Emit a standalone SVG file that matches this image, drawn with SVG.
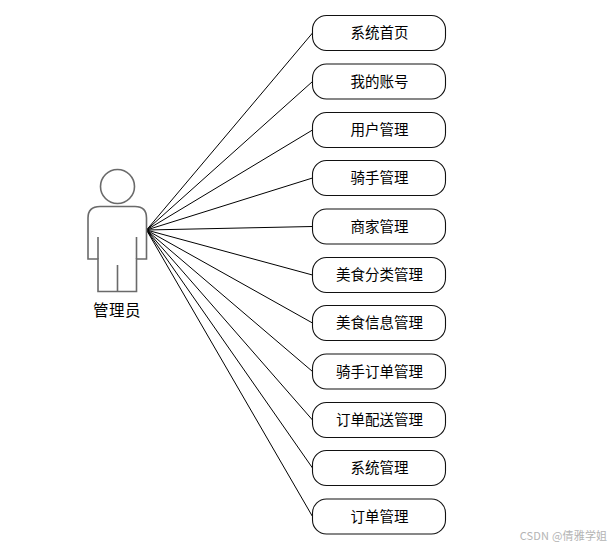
<svg xmlns="http://www.w3.org/2000/svg" width="614" height="547" viewBox="0 0 614 547">
<style>
text{font-family:"Noto Sans CJK SC","Liberation Sans",sans-serif;font-size:14.5px;fill:#000;text-anchor:middle}
.n rect{fill:#fff;stroke:#111;stroke-width:1.1}
#connectors line{stroke:#000;stroke-width:1}
.a{fill:none;stroke:#6a6a6a;stroke-width:1.6}
</style>
<rect width="614" height="547" fill="#fff"/>
<g id="connectors">
<line x1="146.500" y1="230" x2="312.500" y2="33"/>
<line x1="146.500" y1="230" x2="312.500" y2="81.500"/>
<line x1="146.500" y1="230" x2="312.500" y2="130"/>
<line x1="146.500" y1="230" x2="312.500" y2="178"/>
<line x1="146.500" y1="230" x2="312.500" y2="226.500"/>
<line x1="146.500" y1="230" x2="312.500" y2="275"/>
<line x1="146.500" y1="230" x2="312.500" y2="323"/>
<line x1="146.500" y1="230" x2="312.500" y2="371.500"/>
<line x1="146.500" y1="230" x2="312.500" y2="420"/>
<line x1="146.500" y1="230" x2="312.500" y2="468"/>
<line x1="146.500" y1="230" x2="312.500" y2="516.500"/>
</g>
<g id="actor">
<circle class="a" cx="117.500" cy="186.500" r="17"/>
<path class="a" d="M100 206.500H135Q146.500 206.500 146.500 218V259H136.500V291.500H98V259H88V218Q88 206.500 100 206.500Z"/>
<path class="a" d="M98 237V259M136.500 237V259M117.500 265V291.500"/>
<text x="117" y="316" style="font-size:15.500px;letter-spacing:.5px">管理员</text>
</g>
<g id="n1" class="n"><rect x="312.500" y="15.500" width="133" height="35" rx="14"/><text x="379.500" y="38">系统首页</text></g>
<g id="n2" class="n"><rect x="312.500" y="64" width="133" height="35" rx="14"/><text x="379.500" y="87">我的账号</text></g>
<g id="n3" class="n"><rect x="312.500" y="112.500" width="133" height="35" rx="14"/><text x="379.500" y="135">用户管理</text></g>
<g id="n4" class="n"><rect x="312.500" y="160.500" width="133" height="35" rx="14"/><text x="379.500" y="183">骑手管理</text></g>
<g id="n5" class="n"><rect x="312.500" y="209" width="133" height="35" rx="14"/><text x="379.500" y="232">商家管理</text></g>
<g id="n6" class="n"><rect x="312.500" y="257.500" width="133" height="35" rx="14"/><text x="379.500" y="280">美食分类管理</text></g>
<g id="n7" class="n"><rect x="312.500" y="305.500" width="133" height="35" rx="14"/><text x="379.500" y="328">美食信息管理</text></g>
<g id="n8" class="n"><rect x="312.500" y="354" width="133" height="35" rx="14"/><text x="379.500" y="377">骑手订单管理</text></g>
<g id="n9" class="n"><rect x="312.500" y="402.500" width="133" height="35" rx="14"/><text x="379.500" y="425">订单配送管理</text></g>
<g id="n10" class="n"><rect x="312.500" y="450.500" width="133" height="35" rx="14"/><text x="379.500" y="473">系统管理</text></g>
<g id="n11" class="n"><rect x="312.500" y="499" width="133" height="35" rx="14"/><text x="379.500" y="522">订单管理</text></g>
<text x="563.500" y="540" style="font-size:11px;fill:#b4b4b4;letter-spacing:.2px">CSDN @倩雅学姐</text>
</svg>
